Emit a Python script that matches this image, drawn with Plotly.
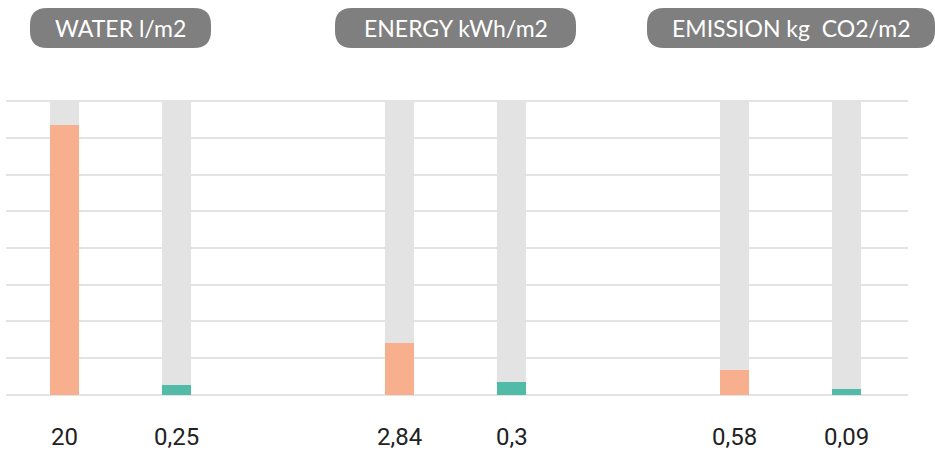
import plotly.graph_objects as go

# ---- data ----
groups = ["WATER", "ENERGY", "EMISSION"]
units = ["l/m2", "kWh/m2", "kg  CO2/m2"]
conventional = [20, 2.84, 0.58]
improved = [0.25, 0.3, 0.09]
conventional_fill_pct = [91.8, 17.7, 8.5]
improved_fill_pct = [3.4, 4.2, 2.0]
full_pct = [100, 100, 100]

# ---- style ----
ORANGE = "#F7AF8D"
TEAL = "#52BBA8"
GREY_BAR = "#E3E3E3"
GRID = "#E3E3E3"
PILL = "#7F7F7F"

W, H = 935, 452
ML, MR, MT, MB = 6, 27, 100, 56
PW, PH = W - ML - MR, H - MT - MB

UNIT_PX = 335.0          # px per category
X0_PX = 120.5            # pixel centre of first category
BAR_W = 29 / UNIT_PX
HALF_SEP = 56 / UNIT_PX
OFF_L = -HALF_SEP - BAR_W / 2
OFF_R = HALF_SEP - BAR_W / 2

def px_to_paper_x(px):
    return (px - ML) / PW

def px_to_paper_y(py):
    return (H - MB - py) / PH

fig = go.Figure()
for off in (OFF_L, OFF_R):
    fig.add_bar(x=groups, y=full_pct, width=BAR_W, offset=off,
                marker=dict(color=GREY_BAR, line=dict(width=0)),
                hoverinfo="skip", showlegend=False)
fig.add_bar(x=groups, y=conventional_fill_pct, width=BAR_W, offset=OFF_L,
            marker=dict(color=ORANGE, line=dict(width=0)),
            customdata=conventional, hovertemplate="%{customdata}<extra></extra>",
            showlegend=False)
fig.add_bar(x=groups, y=improved_fill_pct, width=BAR_W, offset=OFF_R,
            marker=dict(color=TEAL, line=dict(width=0)),
            customdata=improved, hovertemplate="%{customdata}<extra></extra>",
            showlegend=False)

def fmt(v):
    return str(v).replace(".", ",")

annotations = []
label_y = px_to_paper_y(437)
for i, (a, b) in enumerate(zip(conventional, improved)):
    for val, shift in ((a, -56), (b, 56)):
        annotations.append(dict(x=i, y=label_y, xref="x", yref="paper", text=fmt(val),
                                showarrow=False, xshift=shift, yanchor="middle",
                                borderpad=0,
                                font=dict(family="Roboto", size=24, color="#222222")))

# header pills
pill_w = [181, 241, 288]
pill_y = px_to_paper_y(28)
shapes = []
r = 17
h = 20
for i, (g, u, w) in enumerate(zip(groups, units, pill_w)):
    hw = w / 2
    cx = px_to_paper_x(X0_PX + UNIT_PX * i + (0.5 if i == 2 else 0))
    path = (f"M{-hw + r},{-h} L{hw - r},{-h} Q{hw},{-h} {hw},{-h + r} "
            f"L{hw},{h - r} Q{hw},{h} {hw - r},{h} L{-hw + r},{h} "
            f"Q{-hw},{h} {-hw},{h - r} L{-hw},{-h + r} Q{-hw},{-h} {-hw + r},{-h} Z")
    shapes.append(dict(type="path", xref="paper", yref="paper", xsizemode="pixel",
                       ysizemode="pixel", xanchor=cx, yanchor=pill_y, path=path,
                       fillcolor=PILL, line=dict(width=0), layer="above"))
    annotations.append(dict(x=cx, y=pill_y, xref="paper", yref="paper",
                            text=f"{g} {u}", showarrow=False,
                            xanchor="center", yanchor="middle",
                            font=dict(family="Lato", size=23, color="white")))

fig.update_layout(
    width=W, height=H,
    margin=dict(l=ML, r=MR, t=MT, b=MB),
    plot_bgcolor="white", paper_bgcolor="white",
    barmode="overlay", bargap=0,
    xaxis=dict(type="category",
               range=[(ML - X0_PX) / UNIT_PX, (W - MR - X0_PX) / UNIT_PX],
               showticklabels=False, showgrid=False, zeroline=False,
               showline=False, ticks="", fixedrange=True),
    yaxis=dict(range=[-0.4, 100.4], dtick=12.5, tick0=0, showticklabels=False,
               showgrid=True, gridcolor=GRID, gridwidth=2, zeroline=False,
               showline=False, ticks="", fixedrange=True),
    annotations=annotations,
    shapes=shapes,
)

fig.write_html("out.html", config={"displayModeBar": False},
               post_script="document.body.style.margin='0';")
